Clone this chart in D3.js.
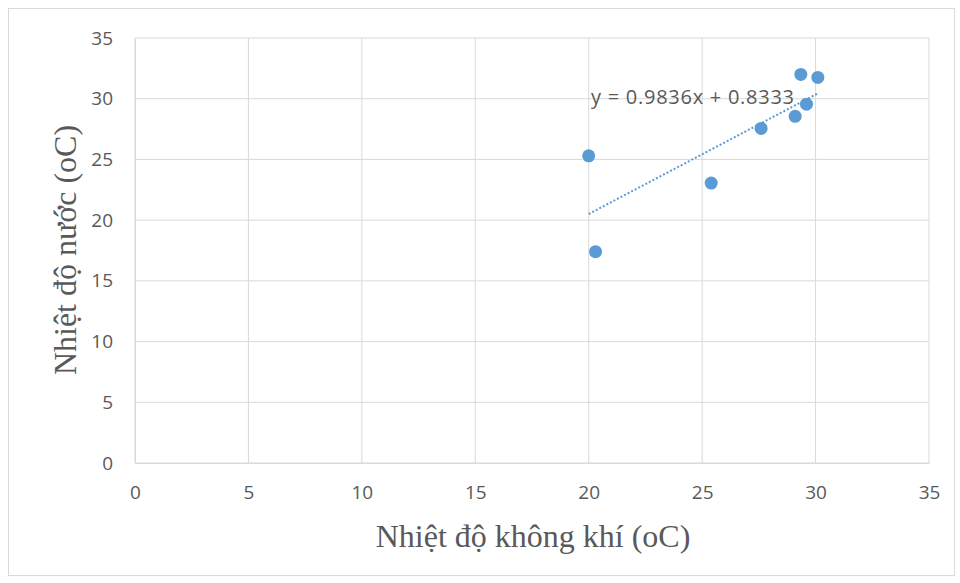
<!DOCTYPE html>
<html><head><meta charset="utf-8">
<script src="https://cdn.jsdelivr.net/npm/d3@7"></script>
<style>body{margin:0;background:#fff}svg{display:block}</style>
</head><body>
<script>
const airTemp = [20.0, 20.3, 25.4, 27.6, 29.1, 29.6, 29.35, 30.1];
const waterTemp = [25.3, 17.4, 23.05, 27.55, 28.55, 29.55, 32.0, 31.75];
const xTicks = [0, 5, 10, 15, 20, 25, 30, 35];
const yTicks = [0, 5, 10, 15, 20, 25, 30, 35];
const trendSlope = 0.9836, trendIntercept = 0.8333;
const trendLabel = "y = 0.9836x + 0.8333";
const xTitle = "Nhiệt độ không khí (oC)";
const yTitle = "Nhiệt độ nước (oC)";

const W = 960, H = 583;
const svg = d3.select("body").append("svg").attr("width", W).attr("height", H);
svg.append("rect").attr("x", 8.5).attr("y", 8.5).attr("width", 946).attr("height", 567)
  .attr("fill", "#fff").attr("stroke", "#d9d9d9");

const x = d3.scaleLinear().domain([0, 35]).range([135, 929]);
const y = d3.scaleLinear().domain([0, 35]).range([463, 38]);

// gridlines
svg.append("g").selectAll("line").data(xTicks).join("line")
  .attr("x1", d => x(d)).attr("x2", d => x(d)).attr("y1", y(0)).attr("y2", y(35))
  .attr("stroke", "#d9d9d9").attr("stroke-width", 1);
svg.append("g").selectAll("line").data(yTicks).join("line")
  .attr("x1", x(0)).attr("x2", x(35)).attr("y1", d => y(d)).attr("y2", d => y(d))
  .attr("stroke", "#d9d9d9").attr("stroke-width", 1);

// axes
const xAxis = svg.append("g").attr("transform", `translate(0,${y(0)})`)
  .call(d3.axisBottom(x).tickValues(xTicks).tickSize(0).tickPadding(23));
const yAxis = svg.append("g").attr("transform", `translate(${x(0)},0)`)
  .call(d3.axisLeft(y).tickValues(yTicks).tickSize(0).tickPadding(22));
[xAxis, yAxis].forEach(a => {
  a.select(".domain").attr("stroke", "#d9d9d9");
  a.selectAll("text").attr("fill", "#595959").style("font-family", "'Open Sans', sans-serif").style("font-size", "19px");
});

// trendline
const xs = d3.extent(airTemp);
svg.append("line")
  .attr("x1", x(xs[0])).attr("y1", y(trendSlope * xs[0] + trendIntercept))
  .attr("x2", x(xs[1])).attr("y2", y(trendSlope * xs[1] + trendIntercept))
  .attr("stroke", "#5b9bd5").attr("stroke-width", 2).attr("stroke-dasharray", "2,2");

// points
svg.append("g").selectAll("circle").data(airTemp).join("circle")
  .attr("cx", d => x(d)).attr("cy", (d, i) => y(waterTemp[i])).attr("r", 6.5)
  .attr("fill", "#5b9bd5");

// trend label
svg.append("text").attr("x", 591).attr("y", 104).text(trendLabel)
  .attr("fill", "#595959").style("font-family", "'Open Sans', sans-serif").style("font-size", "20px")
  .attr("textLength", 203).attr("lengthAdjust", "spacing");

// titles
svg.append("text").attr("x", 533).attr("y", 547).attr("text-anchor", "middle").text(xTitle)
  .attr("fill", "#595959").style("font-family", "'Liberation Serif', serif").style("font-size", "32px");
svg.append("text").attr("transform", "translate(76,250) rotate(-90)").attr("text-anchor", "middle").text(yTitle)
  .attr("fill", "#595959").style("font-family", "'Liberation Serif', serif").style("font-size", "32px");
</script>
</body></html>
